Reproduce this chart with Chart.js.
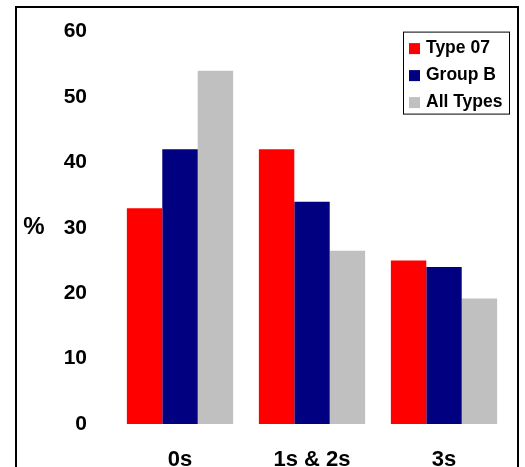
<!DOCTYPE html>
<html>
<head>
<meta charset="utf-8">
<script src="https://cdn.jsdelivr.net/npm/chart.js@4"></script>
<style>
  html, body { margin: 0; padding: 0; background: #fff; overflow: hidden; }
  #frame {
    position: absolute; left: 15px; top: 6px;
    width: 500px; height: 500px;
    border: 2px solid #000;
  }
  #chart { position: absolute; left: 0; top: 0; }
</style>
</head>
<body>
<div id="frame"></div>
<canvas id="chart" width="525" height="467"></canvas>
<script>
// --- data ---
const categories = ['0s', '1s & 2s', '3s'];
const type07 = [33, 42, 25];
const groupB = [42, 34, 24];
const allTypes = [54, 26.5, 19.2];
const yTicks = [0, 10, 20, 30, 40, 50, 60];

const FONT = '"Liberation Sans", Arial, sans-serif';

// "%" sits horizontally left of the tick labels
const percentLabel = {
    id: 'percentLabel',
    afterDraw(chart) {
        const { ctx, chartArea } = chart;
        ctx.save();
        ctx.font = 'bold 24px ' + FONT;
        ctx.fillStyle = '#000';
        ctx.textAlign = 'center';
        ctx.textBaseline = 'middle';
        ctx.fillText('%', 34, (chartArea.top + chartArea.bottom) / 2);
        ctx.restore();
    }
};

// boxed legend in the top right corner of the plot
const boxLegend = {
    id: 'boxLegend',
    afterDraw(chart) {
        const { ctx, chartArea } = chart;
        const right = chartArea.right - 1;
        const left = right - 106;
        const top = chartArea.top;
        const rowH = 27;
        ctx.save();
        ctx.strokeStyle = '#000';
        ctx.lineWidth = 1;
        ctx.fillStyle = '#fff';
        ctx.fillRect(left, top, right - left, 82);
        ctx.strokeRect(left + 0.5, top + 0.5, right - left, 82);
        ctx.font = 'bold 17.5px ' + FONT;
        ctx.textBaseline = 'middle';
        chart.data.datasets.forEach((ds, i) => {
            const cy = top + 17 + i * rowH;
            ctx.fillStyle = ds.backgroundColor;
            ctx.fillRect(left + 6, cy - 5.5, 11, 11);
            ctx.fillStyle = '#000';
            ctx.fillText(ds.label, left + 23, cy);
        });
        ctx.restore();
    }
};

new Chart(document.getElementById('chart').getContext('2d'), {
    type: 'bar',
    data: {
        labels: categories,
        datasets: [
            { label: 'Type 07', data: type07, backgroundColor: '#ff0000' },
            { label: 'Group B', data: groupB, backgroundColor: '#000080' },
            { label: 'All Types', data: allTypes, backgroundColor: '#c0c0c0' }
        ]
    },
    options: {
        responsive: false,
        animation: false,
        layout: { padding: { top: 30, right: 15, left: 0, bottom: 0 } },
        categoryPercentage: 0.805,
        barPercentage: 1.0,
        plugins: {
            legend: { display: false },
            tooltip: { enabled: false }
        },
        scales: {
            x: {
                grid: { display: false },
                border: { display: false },
                ticks: {
                    color: '#000',
                    padding: 15,
                    font: { family: FONT, size: 22, weight: 'bold' }
                },
                afterFit: (scale) => { scale.height = 43; }
            },
            y: {
                min: 0,
                max: 60,
                grid: { display: false },
                border: { display: false },
                afterBuildTicks: (scale) => {
                    scale.ticks = yTicks.map(v => ({ value: v }));
                },
                ticks: {
                    color: '#000',
                    padding: 19,
                    font: { family: FONT, size: 21, weight: 'bold' }
                },
                afterFit: (scale) => { scale.width = 114; }
            }
        }
    },
    plugins: [percentLabel, boxLegend]
});
</script>
</body>
</html>
